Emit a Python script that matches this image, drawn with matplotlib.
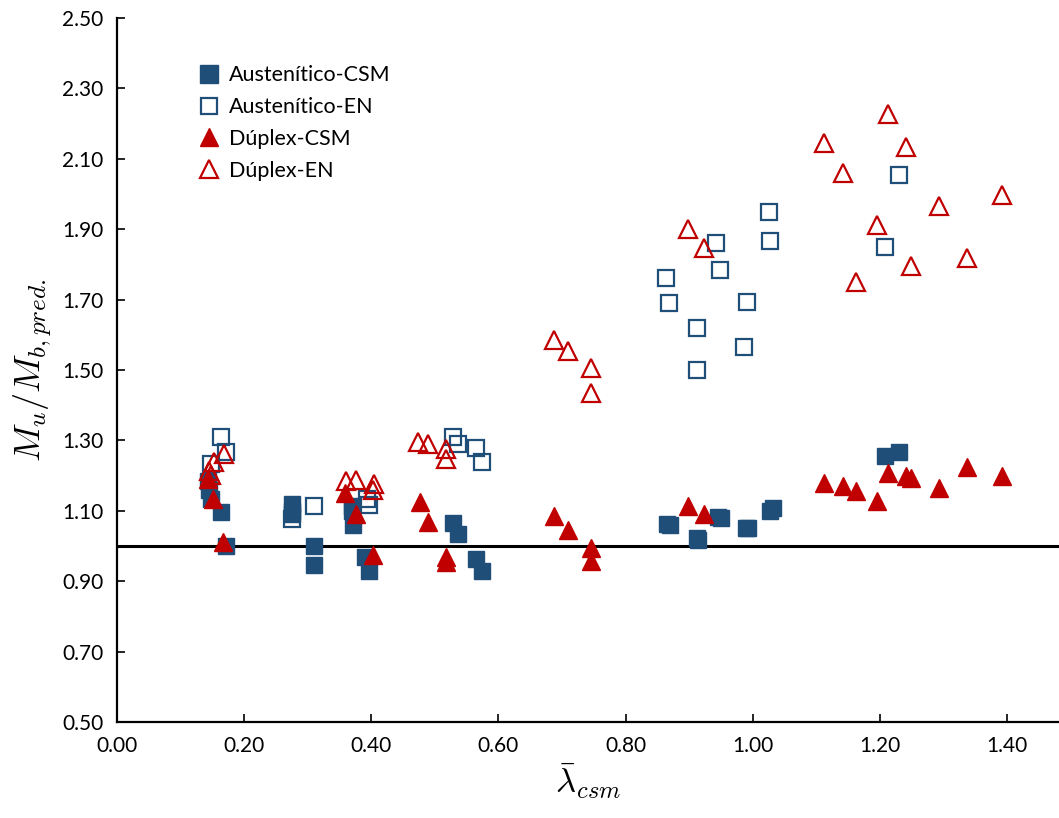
#!/usr/bin/env python3
import matplotlib
matplotlib.use("Agg")
import matplotlib.pyplot as plt
import numpy as np

# normalised slenderness vs. test/predicted moment ratio
aus_csm_x = [0.143, 0.145, 0.148, 0.164, 0.172, 0.275, 0.275, 0.275, 0.310, 0.310,
             0.370, 0.370, 0.372, 0.390, 0.397, 0.529, 0.536, 0.565, 0.575,
             0.866, 0.870, 0.912, 0.914, 0.945, 0.950, 0.989, 0.993, 1.027, 1.032,
             1.208, 1.230]
aus_csm_y = [1.185, 1.160, 1.133, 1.096, 1.000, 1.118, 1.100, 1.090, 1.000, 0.945,
             1.113, 1.100, 1.060, 0.970, 0.928, 1.065, 1.033, 0.962, 0.930,
             1.062, 1.060, 1.022, 1.018, 1.081, 1.080, 1.050, 1.052, 1.100, 1.108,
             1.257, 1.266]

aus_en_x = [0.148, 0.164, 0.172, 0.275, 0.310, 0.394, 0.397, 0.529, 0.536, 0.565, 0.575,
            0.863, 0.869, 0.912, 0.913, 0.943, 0.948, 0.986, 0.991, 1.025, 1.028,
            1.208, 1.230]
aus_en_y = [1.232, 1.311, 1.266, 1.076, 1.113, 1.133, 1.116, 1.311, 1.289, 1.277, 1.238,
            1.760, 1.690, 1.620, 1.501, 1.862, 1.785, 1.564, 1.694, 1.950, 1.867,
            1.850, 2.055]

dup_csm_x = [0.143, 0.151, 0.167, 0.359, 0.376, 0.403, 0.476, 0.490, 0.518, 0.518,
             0.687, 0.709, 0.746, 0.746, 0.898, 0.924,
             1.113, 1.142, 1.162, 1.195, 1.213, 1.242, 1.249, 1.293, 1.337, 1.392]
dup_csm_y = [1.190, 1.133, 1.010, 1.150, 1.090, 0.974, 1.124, 1.067, 0.968, 0.954,
             1.085, 1.045, 0.994, 0.957, 1.113, 1.090,
             1.178, 1.170, 1.155, 1.127, 1.206, 1.200, 1.192, 1.164, 1.223, 1.198]

dup_en_x = [0.145, 0.148, 0.153, 0.169, 0.361, 0.376, 0.402, 0.405, 0.474, 0.489, 0.518, 0.518,
            0.687, 0.710, 0.746, 0.746, 0.898, 0.924,
            1.113, 1.142, 1.162, 1.195, 1.213, 1.242, 1.249, 1.293, 1.337, 1.392]
dup_en_y = [1.212, 1.203, 1.238, 1.260, 1.184, 1.187, 1.160, 1.175, 1.294, 1.289, 1.275, 1.246,
            1.584, 1.555, 1.507, 1.436, 1.901, 1.847,
            2.145, 2.060, 1.751, 1.913, 2.228, 2.134, 1.796, 1.967, 1.819, 1.998]

x_ticks = np.arange(0.0, 1.41, 0.2)
y_ticks = np.arange(0.5, 2.51, 0.2)

blue = "#1F4E79"
red = "#C00000"

plt.rcParams["font.family"] = ["Lato", "DejaVu Sans"]
plt.rcParams["mathtext.fontset"] = "cm"

fig = plt.figure(figsize=(10.59, 8.18), dpi=100)
ax = fig.add_axes([0.1105, 0.1174, 0.8895, 0.8606])

ax.axhline(1.0, color="black", lw=2.2, zorder=1)

ax.plot(aus_csm_x, aus_csm_y, ls="none", marker="s", ms=12, color=blue,
        label="Austenítico-CSM", zorder=3)
ax.plot(aus_en_x, aus_en_y, ls="none", marker="s", ms=11.5, mfc="none", mec=blue,
        mew=1.6, label="Austenítico-EN", zorder=3)
ax.plot(dup_csm_x, dup_csm_y, ls="none", marker="^", ms=13, color=red,
        label="Dúplex-CSM", zorder=4)
ax.plot(dup_en_x, dup_en_y, ls="none", marker="^", ms=12.5, mfc="none", mec=red,
        mew=1.6, label="Dúplex-EN", zorder=4)

ax.set_xlim(0, 1.482)
ax.set_ylim(0.5, 2.5)
ax.set_xticks(x_ticks)
ax.set_yticks(y_ticks)
ax.set_xticklabels([f"{v:.2f}" for v in x_ticks])
ax.set_yticklabels([f"{v:.2f}" for v in y_ticks])
ax.tick_params(direction="in", length=6, width=1.2, labelsize=15, pad=10)
ax.spines["top"].set_visible(False)
ax.spines["right"].set_visible(False)
for s in ("left", "bottom"):
    ax.spines[s].set_linewidth(1.6)

ax.set_xlabel(r"$\bar{\lambda}_{csm}$", fontsize=25, labelpad=4)
ax.set_ylabel(r"$M_u/M_{b,pred.}$", fontsize=26, labelpad=6)

ax.legend(loc="upper left", bbox_to_anchor=(0.066, 0.945), frameon=False,
          fontsize=15.5, handletextpad=-0.1, labelspacing=0.55, borderaxespad=0,
          markerscale=1.05)

fig.savefig("out.png", dpi=100)
